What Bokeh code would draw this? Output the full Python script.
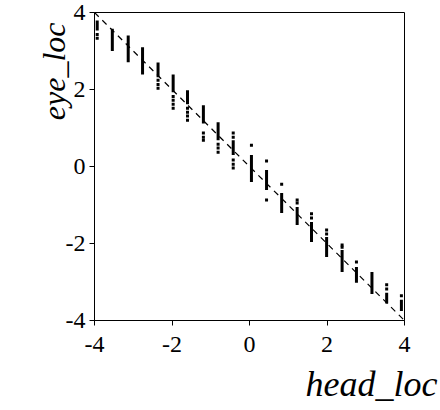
from bokeh.plotting import figure
from bokeh.models import Range1d, Slope, Title, FixedTicker
from bokeh.embed import file_html
from bokeh.resources import INLINE

# column positions (head_loc)
col_x = [-3.93, -3.54, -3.13, -2.76, -2.36, -1.97, -1.60, -1.19, -0.81, -0.42, 0.05,
         0.44, 0.83, 1.23, 1.60, 1.99, 2.39, 2.76, 3.16, 3.54, 3.92]
# dense runs of eye_loc values per column
run_lo = [3.53, 3.00, 2.71, 2.39, 2.32, 1.93, 1.62, 1.12, 0.68, 0.30, -0.40,
          -0.61, -1.21, -1.52, -1.96, -2.35, -2.74, -3.02, -3.31, -3.56, -3.75]
run_hi = [3.79, 3.58, 3.40, 3.10, 2.70, 2.39, 1.98, 1.59, 1.15, 0.68, 0.30,
          -0.09, -0.69, -1.05, -1.44, -1.83, -2.17, -2.61, -2.74, -3.28, -3.46]
# sparse points
dot_x = [-3.93, -3.93,
         -2.36, -2.36, -2.36,
         -1.97, -1.97, -1.97, -1.97,
         -1.60, -1.60, -1.60, -1.60,
         -1.19, -1.19, -1.19,
         -0.81, -0.81, -0.81,
         -0.42, -0.42, -0.42, -0.42, -0.42,
         0.05,
         0.44, 0.44,
         0.83,
         1.23, 1.23,
         1.60, 1.60,
         1.99, 1.99,
         2.39, 2.39,
         2.76,
         3.54, 3.54,
         3.92]
dot_y = [3.43, 3.33,
         2.24, 2.13, 2.03,
         1.82, 1.72, 1.62, 1.51,
         1.51, 1.41, 1.31, 1.20,
         0.87, 0.76, 0.68,
         0.58, 0.48, 0.37,
         0.87, 0.76, 0.17, 0.06, -0.04,
         0.55,
         0.14, -0.87,
         -0.46,
         -0.87, -0.95,
         -1.23, -1.34,
         -1.65, -1.75,
         -2.04, -2.10,
         -2.48,
         -3.07, -3.18,
         -3.36]
ticks = [-4, -2, 0, 2, 4]
tick_labels = {t: str(t) for t in ticks}

SERIF = "Liberation Serif"

p = figure(width=440, height=410, output_backend="svg", toolbar_location=None,
           x_range=Range1d(-4, 4), y_range=Range1d(-4, 4),
           min_border_left=94, min_border_top=12, min_border_right=36, min_border_bottom=89)
p.grid.visible = False
p.outline_line_color = "black"
p.outline_line_width = 1
p.background_fill_color = "white"
p.border_fill_color = "white"

p.xaxis.ticker = FixedTicker(ticks=ticks)
p.yaxis.ticker = FixedTicker(ticks=ticks)
p.axis.major_label_overrides = tick_labels
p.axis.minor_tick_line_color = None
p.axis.major_tick_in = 0
p.axis.major_tick_out = 5
p.axis.axis_line_color = "black"
p.axis.major_tick_line_color = "black"
p.axis.major_label_text_font = SERIF
p.axis.major_label_text_font_size = "24px"
p.axis.major_label_text_color = "black"
p.xaxis.major_label_standoff = 11
p.yaxis.major_label_standoff = 4

p.add_layout(Slope(gradient=-1, y_intercept=0, line_color="black", line_width=1.2,
                   line_dash="6 5"))

p.segment(x0=col_x, y0=run_lo, x1=col_x, y1=run_hi, line_color="black",
          line_width=3, line_cap="butt")
p.scatter(dot_x, dot_y, marker="square", size=3, fill_color="black", line_color=None)

p.add_layout(Title(text="head_loc", align="right", offset=-33, standoff=14,
                   text_font=SERIF, text_font_style="italic", text_font_size="36px",
                   text_color="black"), "below")
p.add_layout(Title(text="eye_loc", align="right", offset=10, standoff=-18,
                   text_font=SERIF, text_font_style="italic", text_font_size="32px",
                   text_color="black"), "left")

open("out.html", "w").write(file_html(p, INLINE))
